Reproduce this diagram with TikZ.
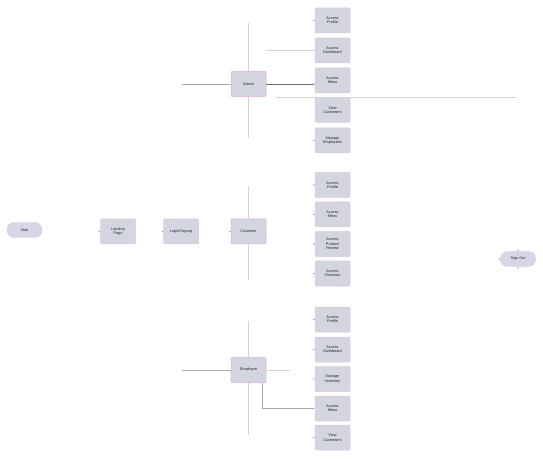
\documentclass[tikz,border=0pt]{standalone}
\usepackage{fontspec}
\setmainfont{Liberation Sans}
\usetikzlibrary{arrows.meta}
\definecolor{boxfill}{HTML}{D3D6DE}
\definecolor{boxline}{HTML}{E2C6E4}
\definecolor{pinkline}{HTML}{E0A8DC}
\definecolor{ovalfill}{HTML}{D8D6E6}
\definecolor{faint}{HTML}{FFFFFF}
\definecolor{tipcol}{HTML}{8A8A8A}
\definecolor{lightln}{HTML}{D4D4D4}
\definecolor{midln}{HTML}{A8A8A8}
\definecolor{darkln}{HTML}{707070}
\begin{document}
\begin{tikzpicture}[x=1bp,y=-1bp,
  every node/.style={font=\fontsize{3.8}{4.4}\selectfont, align=center, inner sep=0.5bp, text=black!85},
  procbox/.style={rectangle, rounded corners=1bp, minimum width=35bp, minimum height=25bp, fill=boxfill, draw=boxline, line width=0.5bp},
  hubbox/.style={procbox, draw=pinkline},
  termoval/.style={rectangle, rounded corners=7bp, minimum width=35bp, minimum height=15bp, fill=ovalfill, draw=boxline, line width=0.4bp},
  tip/.style={-{Stealth[length=1.6bp,width=1.4bp]}},
  faintarrow/.style={-{Stealth[length=1.6bp,width=1.4bp,color=tipcol]}, draw=faint, line width=0.3bp},
  lightline/.style={draw=lightln, line width=0.5bp},
  midline/.style={draw=midln, line width=0.5bp},
  darkline/.style={draw=darkln, line width=0.6bp}]
\useasboundingbox[fill=white] (0,0) rectangle (543,459);

% main flow
\node[termoval] (start) at (24.5,230) {Start};
\node[procbox] (landing) at (118,231.5) {Landing\\Page};
\node[procbox] (login) at (181,231.5) {Login/Signup};
\node[hubbox] (customer) at (248.5,231.5) {Customer};
\node[termoval] (signout) at (518,259) {Sign Out};

% hubs
\node[hubbox] (admin) at (248.5,84) {Admin};
\node[hubbox] (employee) at (248.5,370) {Employee};

% admin children
\node[procbox] (a1) at (332.5,20.5) {Access\\Profile};
\node[procbox] (a2) at (332.5,50.5) {Access\\Dashboard};
\node[procbox] (a3) at (332.5,80.5) {Access\\Menu};
\node[procbox] (a4) at (332.5,110) {View\\Customers};
\node[procbox] (a5) at (332.5,140.5) {Manage\\Employees};

% customer children
\node[procbox] (c1) at (332.5,185) {Access\\Profile};
\node[procbox] (c2) at (332.5,214.5) {Access\\Menu};
\node[procbox] (c3) at (332.5,244) {Access\\Product\\Review};
\node[procbox] (c4) at (332.5,273.5) {Access\\Checkout};

% employee children
\node[procbox] (e1) at (332.5,319.5) {Access\\Profile};
\node[procbox] (e2) at (332.5,349.5) {Access\\Dashboard};
\node[procbox] (e3) at (332.5,379) {Manage\\Inventory};
\node[procbox] (e4) at (332.5,408.5) {Access\\Menu};
\node[procbox] (e5) at (332.5,437.5) {View\\Customers};

% main flow arrows
\draw[faintarrow] (start) -- (landing);
\draw[faintarrow] (landing) -- (login);
\draw[faintarrow] (login) -- (customer);

% customer connections
\coordinate (cup) at (248.5,186);
\coordinate (cdown) at (248.5,280);
\draw[lightline] (cup) -- (customer.north);
\draw[lightline] (customer.south) -- (cdown);
\foreach \c in {c1,c2,c3,c4} \draw[faintarrow] (customer.east|-\c.west) -- (\c.west);

% admin connections
\coordinate (aleft) at (182,84);
\coordinate (aup) at (248.5,23);
\coordinate (adown) at (248.5,138);
\coordinate (adash) at (266,50.5);
\coordinate (aview) at (276,97);
\coordinate (asign) at (517,97);
\draw[midline] (aleft) -- (admin.west);
\draw[lightline] (aup) -- (admin.north);
\draw[lightline] (admin.south) -- (adown);
\draw[darkline,tip] (admin.east) -- (a3.west|-admin.east);
\draw[lightline,tip] (adash) -- (a2.west);
\draw[lightline] (aview) -- (asign);
\foreach \c in {a1,a5} \draw[faintarrow] (admin.east|-\c.west) -- (\c.west);

% employee connections
\coordinate (eleft) at (182,370);
\coordinate (eup) at (248.5,321);
\coordinate (edown) at (248.5,435);
\coordinate (eright) at (290,370);
\coordinate (ebend) at (262,382.5);
\draw[midline] (eleft) -- (employee.west);
\draw[lightline] (eup) -- (employee.north);
\draw[lightline] (employee.south) -- (edown);
\draw[lightline] (employee.east) -- (eright);
\draw[midline,tip] (ebend) |- (e4.west);
\foreach \c in {e1,e2,e3,e5} \draw[faintarrow] (employee.east|-\c.west) -- (\c.west);

% sign out ticks
\coordinate (sabove) at (518,244);
\coordinate (sbelow) at (518,274);
\coordinate (sleft) at (492,259);
\draw[faintarrow] (sabove) -- (signout.north);
\draw[faintarrow] (sbelow) -- (signout.south);
\draw[faintarrow] (sleft) -- (signout.west);
\end{tikzpicture}
\end{document}
